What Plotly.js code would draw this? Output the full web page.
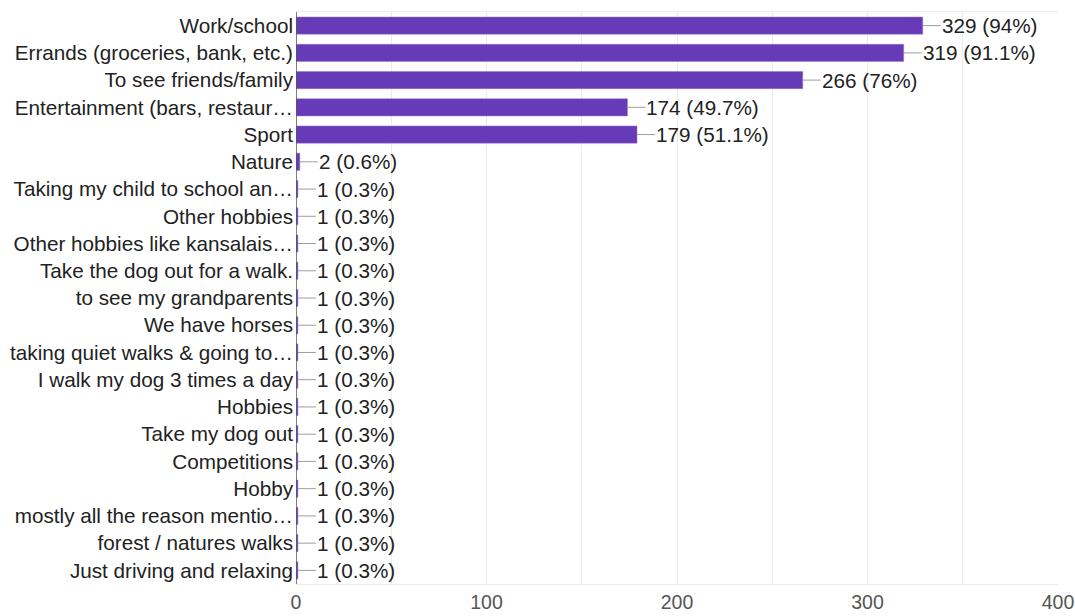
<!DOCTYPE html>
<html>
<head>
<meta charset="utf-8">
<script src="https://cdn.plot.ly/plotly-3.0.1.min.js"></script>
<style>html,body{margin:0;padding:0;background:#fff;}#chart{width:1075px;height:616px;}</style>
</head>
<body>
<div id="chart"></div>
<script>
const categories = [
  "Work/school",
  "Errands (groceries, bank, etc.)",
  "To see friends/family",
  "Entertainment (bars, restaur…",
  "Sport",
  "Nature",
  "Taking my child to school an…",
  "Other hobbies",
  "Other hobbies like kansalais…",
  "Take the dog out for a walk.",
  "to see my grandparents",
  "We have horses",
  "taking quiet walks & going to…",
  "I walk my dog 3 times a day",
  "Hobbies",
  "Take my dog out",
  "Competitions",
  "Hobby",
  "mostly all the reason mentio…",
  "forest / natures walks",
  "Just driving and relaxing"
];
const counts = [329, 319, 266, 174, 179, 2, 1, 1, 1, 1, 1, 1, 1, 1, 1, 1, 1, 1, 1, 1, 1];
const percents = ["94%", "91.1%", "76%", "49.7%", "51.1%", "0.6%", "0.3%", "0.3%", "0.3%", "0.3%", "0.3%", "0.3%", "0.3%", "0.3%", "0.3%", "0.3%", "0.3%", "0.3%", "0.3%", "0.3%", "0.3%"];
const xTicks = [0, 100, 200, 300, 400];

const FONT = "Liberation Sans, Arial, Helvetica, sans-serif";
const FS = 20.7;

const trace = {
  type: "bar",
  orientation: "h",
  x: counts,
  y: categories,
  marker: {color: "#673ab7", line: {color: "#9575cd", width: 0.5}},
  hoverinfo: "none"
};

const annotations = categories.map((c, i) => ({
  x: counts[i],
  y: c,
  xref: "x",
  yref: "y",
  text: counts[i] + " (" + percents[i] + ")",
  showarrow: true,
  arrowhead: 0,
  arrowwidth: 1,
  arrowcolor: "#9e9e9e",
  ax: 18,
  ay: 0,
  xanchor: "left",
  yanchor: "middle",
  borderpad: 0,
  font: {family: FONT, size: FS, color: "#222"}
}));

const layout = {
  width: 1075,
  height: 616,
  margin: {l: 296, r: 17, t: 12, b: 32, pad: 0},
  paper_bgcolor: "#fff",
  plot_bgcolor: "#fff",
  bargap: 0.37,
  showlegend: false,
  font: {family: FONT, size: FS, color: "#222"},
  xaxis: {
    range: [0, 400],
    tickvals: xTicks,
    ticktext: xTicks.map(String),
    showgrid: true,
    gridcolor: "#ebebeb",
    gridwidth: 1,
    minor: {tickvals: [50, 150, 250, 350], showgrid: true, gridcolor: "#ebebeb", gridwidth: 1},
    zeroline: false,
    showline: true,
    linecolor: "#ebebeb",
    mirror: true,
    ticks: "",
    ticklabelstandoff: 1,
    ticklabeloverflow: "allow",
    tickfont: {family: FONT, size: 19.5, color: "#555"},
    fixedrange: true
  },
  yaxis: {
    autorange: "reversed",
    type: "category",
    showgrid: false,
    zeroline: false,
    showline: false,
    ticks: "",
    ticklabelstandoff: 2,
    tickfont: {family: FONT, size: FS, color: "#222"},
    automargin: false,
    fixedrange: true
  },
  shapes: [{
    type: "line", xref: "x", yref: "paper", x0: 0, x1: 0, y0: 0, y1: 1,
    line: {color: "#555", width: 1.5}
  }],
  annotations: annotations
};

Plotly.newPlot("chart", [trace], layout, {displayModeBar: false, staticPlot: true});
</script>
</body>
</html>
